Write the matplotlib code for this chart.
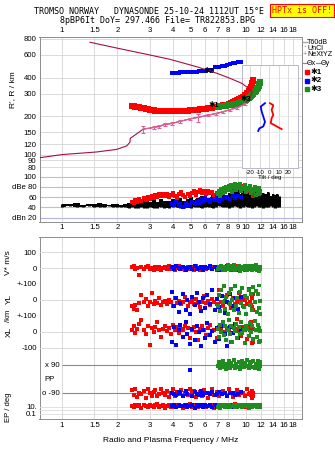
import matplotlib
matplotlib.use('Agg')
import matplotlib.pyplot as plt
from matplotlib.lines import Line2D
from matplotlib.ticker import NullLocator

# ---------------- data ----------------
# O-mode echoes (*1, red)
red_f = [2.40, 2.45, 2.50, 2.56, 2.62, 2.70, 2.78, 2.85, 2.92, 3.00, 3.08, 3.15, 3.22, 3.30, 3.38, 3.46,
         3.55, 3.64, 3.73, 3.82, 3.92, 4.02, 4.12, 4.23, 4.34, 4.45, 4.57, 4.69, 4.81, 4.94, 5.07, 5.20,
         5.34, 5.48, 5.62, 5.77, 5.92, 6.08, 6.24, 6.40, 6.57, 6.74, 6.92, 7.10, 7.29, 7.48, 7.68, 7.88,
         8.09, 8.30, 8.52, 8.74, 8.97, 9.20, 9.44, 9.68, 9.93, 10.15, 10.35, 10.50, 10.62, 10.72, 10.80,
         10.86, 10.90]
red_h = [240, 238, 236, 237, 234, 232, 230, 228, 226, 224, 223, 222, 221, 221, 220, 220,
         219, 219, 219, 219, 219, 219, 219, 219, 220, 220, 220, 221, 221, 222, 222, 223,
         224, 225, 226, 227, 228, 229, 230, 231, 232, 234, 236, 238, 240, 242, 244, 246,
         249, 252, 256, 260, 265, 270, 276, 283, 292, 302, 315, 328, 340, 352, 364, 375, 385]
red_db = [50, 48, 54, 50, 57, 53, 59, 55, 61, 57, 63, 59, 65, 61, 66, 62, 67, 63, 66, 60, 64, 68, 62,
          58, 66, 70, 64, 60, 67, 63, 69, 72, 65, 70, 74, 68, 72, 66, 73, 69, 71, 64, 68, 62, 67, 72,
          76, 80, 74, 78, 82, 76, 80, 83, 77, 81, 79, 75, 78, 72, 74, 69, 71, 66, 63]
red_v = [8, 12, -5, 3, -45, 10, -8, 6, 15, -3, 2, -12, 5, -6, 10, -15, 0, 4, -8, 12, -4, 6, -10, 3,
         16, -6, 2, -12, 8, -3, 5, -9, 11, -2, -14, 4, 9, -7, 1, 13, -5, 7, -11, 3, -4, 10, -8, 2, 6,
         -13, 5, -3, 12, -7, 0, 8, -10, 4, -5, 9, -2, 6, -8, 3, -4]
red_yl = [-40, -55, -30, -62, -20, 30, -15, 5, -35, -10, 46, -25, -5, -18, 10, -30, -12, -8, -22, 0,
          -15, -40, 15, -20, -5, -28, -10, 20, -35, -15, -2, -25, 8, -18, -45, -10, 25, -20, -8, -30,
          5, -15, -25, 60, -12, -35, -5, 30, -20, -50, 10, -28, -15, 45, -8, -38, 0, -22, 70, -12,
          -30, 15, -45, 35, -60]
red_xl = [10, 35, -5, 20, 50, 75, 15, -10, 40, -81, 25, 0, 30, 60, 10, -29, 20, 35, 5, 25, -15, 45,
          15, 30, -5, 20, 10, 40, 25, -35, 15, 30, 0, -50, 20, 35, 10, -20, 25, 45, 5, 15, -40, 30,
          20, 55, 0, 25, 10, -60, 35, 20, 80, 5, -25, 30, 15, -45, 40, 10, 60, -70, 25, -65, 20]
red_pp = [-70, -100, -60, -115, -85, -95, -75, -120, -65, -90, -105, -80, -70, -110, -95, -60, -85,
          -100, -75, -115, -90, -65, -105, -80, -95, -70, -110, -85, -100, -60, -90, -75, -115, -95,
          -80, -105, -70, -90, -120, -85, -65, -100, -80, -110, -95, -75, -90, -105, -60, -85, -115,
          -95, -70, -100, -80, -90, -110, -65, -95, -85, -100, -75, -120, -90, -105]
red_ep = [20, 8, 35, 12, 25, 6, 40, 15, 10, 30, 18, 7, 22, 45, 9, 14, 28, 5, 16, 33, 11, 24, 8, 38,
          13, 20, 6, 27, 17, 42, 10, 19, 31, 7, 23, 15, 36, 9, 21, 12, 29, 6, 18, 40, 14, 25, 8, 32,
          11, 20, 16, 44, 9, 26, 13, 35, 7, 22, 18, 30, 10, 24, 15, 38, 12]

# *2 echoes (blue)
blue_f = [3.95, 4.05, 4.15, 4.30, 4.40, 4.55, 4.70, 4.80, 4.95, 5.10, 5.25, 5.40, 5.55, 5.70, 5.85,
          6.00, 6.15, 6.35, 6.55, 6.75, 6.95, 7.15, 7.40, 7.65, 7.90, 8.15, 8.45, 8.75, 9.05, 9.35]
blue_h = [436, 436, 437, 437, 438, 438, 439, 439, 440, 440, 441, 442, 446, 448, 450, 452, 455, 458,
          462, 480, 483, 485, 488, 492, 505, 510, 515, 520, 526, 532]
blue_db = [47, 44, 50, 42, 46, 41, 48, 43, 45, 50, 47, 53, 49, 56, 52, 58, 54, 51, 57, 55, 60, 52,
           56, 58, 61, 57, 63, 59, 62, 60]
blue_v = [5, -8, 12, 0, -5, 10, -12, 3, 8, -3, 15, -6, 2, 9, -10, 4, -2, 11, -7, 6, 0, -9, 7, -4,
          13, 1, -6, 5, -11, 3]
blue_yl = [52, -40, 10, -75, -20, 35, -60, 0, -85, 20, -30, 45, -10, -70, 15, -50, 30, -25, 60, -65,
           5, -45, 25, -80, -15, 40, -35, 10, -55, 20]
blue_xl = [-60, 30, -80, 10, 45, -30, 60, -10, -75, 20, -50, 35, 0, -90, 15, -40, 55, -20, 5, -65,
           25, -45, 40, -15, -85, 30, -5, 50, -35, 15]
blue_pp = [-85, -95, -100, -80, -90, -105, -75, -95, 60, -110, -82, -92, -98, -78, -102, -90, -86,
           -96, -84, -100, -92, -80, -95, -88, -105, -90, -85, -98, -94, -82]
blue_ep = [15, 25, 8, 30, 12, 20, 35, 10, 18, 28, 6, 22, 14, 32, 9, 24, 16, 38, 11, 26, 7, 19, 30,
           13, 21, 40, 10, 17, 27, 12]

# X-mode echoes (*3, green)
green_f = [7.05, 7.15, 7.25, 7.36, 7.47, 7.58, 7.70, 7.82, 7.94, 8.06, 8.18, 8.31, 8.44, 8.57, 8.70,
           8.84, 8.98, 9.12, 9.26, 9.41, 9.56, 9.71, 9.86, 10.02, 10.18, 10.34, 10.50, 10.66, 10.82,
           10.98, 11.14, 11.30, 11.45, 11.58, 11.70, 11.80, 11.88, 11.94]
green_h = [237, 237, 238, 238, 239, 239, 240, 241, 242, 243, 244, 245, 246, 247, 248, 249, 250, 252,
           254, 256, 258, 261, 264, 267, 271, 275, 280, 286, 292, 299, 306, 314, 323, 333, 343, 353,
           362, 372]
green_db = [66, 72, 62, 75, 68, 78, 71, 80, 74, 82, 76, 84, 70, 80, 86, 74, 82, 78, 85, 72, 80, 76,
            83, 70, 78, 74, 81, 68, 76, 72, 79, 65, 74, 70, 77, 66, 72, 68]
green_v = [-5, 10, 0, 15, -10, 5, -15, 8, 20, -3, 12, -8, 3, 18, -12, 6, -5, 14, -18, 9, 0, -7, 16,
           4, -14, 11, -2, 7, -9, 13, -4, 19, -11, 2, 8, -16, 5, -6]
green_yl = [-40, 30, -70, 60, -10, 85, -55, 20, -85, 45, -25, 70, 0, -60, 90, -35, 15, -80, 50, -20,
            75, -45, 25, -90, 10, 65, -30, 40, -65, 80, -15, 55, -75, 35, -50, 95, -5, -88]
green_xl = [20, -30, 45, 0, 60, -20, 35, -50, 10, 75, -10, 40, -60, 25, 5, 50, -40, 30, -15, 65, -5,
            15, -70, 40, 20, -25, 55, 0, 35, -45, 70, 10, -30, 45, -65, 25, 5, -55]
green_pp = [85, 110, 70, 95, 120, 80, 100, 65, 90, 115, 75, 105, 88, 125, 72, 98, 82, 110, 68, 92,
            118, 78, 102, 86, 122, 70, 95, 108, 80, 115, 74, 100, 90, 120, 66, 96, 84, 112]
green_ep = [10, 25, 6, 18, 35, 12, 8, 28, 15, 40, 9, 20, 14, 32, 7, 22, 11, 38, 16, 26, 8, 19, 30,
            12, 24, 6, 17, 36, 10, 21, 13, 29, 9, 23, 16, 34, 11, 27]

# real-height profile (dark red line)
prof_f = [0.76, 1.0, 1.54, 1.98, 2.25, 2.34, 2.35, 2.49, 2.76, 3.16, 3.63, 3.94, 4.96, 6.22, 7.5,
          8.9, 9.9, 10.5, 10.8]
prof_h = [94.6, 100, 104.8, 109.8, 117, 125, 134, 142, 158, 163, 172, 175, 190, 203, 216, 232, 249,
          280, 310]
# upper dark red trace
up_f = [1.42, 2.0, 2.5, 3.0, 3.5, 3.86, 4.5, 5.5, 6.2, 7.0, 8.2, 9.5, 10.3, 10.8]
up_h = [754, 678, 634, 600, 572, 555, 522, 482, 455, 430, 394, 360, 330, 312]
# NeXtYZ points with error bars (pink)
nxt_f = [2.76, 3.16, 3.38, 3.63, 3.94, 4.38, 4.96, 5.5, 6.22, 6.9, 7.5, 8.2, 8.9, 9.9]
nxt_h = [158, 163, 165, 172, 175, 182, 190, 195, 203, 209, 216, 225, 232, 249]
nxt_e = [10, 4, 4, 4, 4, 4, 4, 14, 4, 4, 4, 4, 4, 4]
# tilt profiles
tiltx_deg = [0.7, 4.2, 2.5, 4.2, 2.5, 1.5, 7.8, 13]
tiltx_h = [252, 243, 224, 203, 193, 176, 166, 158]
tilty_deg = [-4.5, -9, -8, -6.3, -4.5, -6.3, -10.5, -11.6]
tilty_h = [252, 237, 217, 198, 180, 166, 160, 153]
# noise (black) envelopes in dBe panel
noise_f = [1.00, 1.10, 1.20, 1.30, 1.40, 1.50, 1.60, 1.70, 1.80, 1.90, 2.00, 2.10, 2.20, 2.30, 2.40,
           2.50, 2.60, 2.70, 2.80, 2.90, 3.00, 3.15, 3.30, 3.45, 3.60, 3.80, 4.00, 4.20, 4.40, 4.60,
           4.80, 5.00, 5.25, 5.50, 5.75, 6.00, 6.30, 6.60, 6.90, 7.20, 7.50, 7.80, 8.10, 8.40, 8.70,
           9.00, 9.30, 9.60, 9.90, 10.2, 10.5, 10.8, 11.1, 11.4, 11.7, 12.0, 12.4, 12.8, 13.2, 13.6,
           14.0, 14.4, 14.8, 15.2]
noise_lo = [41, 42, 40, 41, 42, 41, 40, 41, 42, 41, 40, 41, 40, 39, 40, 38, 39, 40, 38, 39, 40, 38,
            39, 40, 38, 39, 40, 41, 39, 38, 40, 39, 41, 40, 38, 40, 41, 39, 40, 42, 40, 41, 39, 40,
            42, 41, 39, 40, 42, 40, 41, 39, 40, 42, 41, 40, 39, 41, 40, 42, 41, 39, 40, 41]
noise_hi = [47, 46, 48, 45, 47, 46, 48, 46, 45, 47, 46, 45, 47, 48, 50, 47, 52, 49, 55, 60, 51, 54,
            50, 56, 53, 52, 57, 54, 58, 53, 56, 60, 55, 58, 62, 56, 59, 64, 58, 62, 66, 60, 68, 64,
            70, 74, 66, 72, 68, 70, 64, 68, 72, 66, 70, 64, 68, 66, 70, 63, 67, 64, 66, 62]

top_ticks = [1, 1.5, 2, 3, 4, 5, 6, 7, 8, 10, 12, 14, 16, 18]
top_labels = ['1', '1.5', '2', '3', '4', '5', '6', '7', '8', '10', '12', '14', '16', '18']
mid_ticks = [1, 1.5, 2, 3, 4, 5, 6, 7, 8, 9, 10, 12, 14, 16, 18]
mid_labels = ['1', '1.5', '2', '3', '4', '5', '6', '7', '8', '9', '10', '12', '14', '16', '18']
h_ticks = [80, 90, 100, 120, 150, 200, 300, 400, 600, 800]
db_ticks = [20, 40, 60, 80, 100]
db_labels = ['dBn 20', '40', '60', 'dBe 80', '100']

# ---------------- styling / layout ----------------
plt.rcParams['font.family'] = ['Liberation Sans', 'DejaVu Sans']
W, H = 335, 451
fig = plt.figure(figsize=(W / 100, H / 100), dpi=100)

RED, BLUE, GREEN = '#ff0000', '#0000ff', '#1e8c1e'
DARKRED, PINK = '#a8103c', '#e0609a'
GRID, FRAME = '#d4d4d4', '#8c8c8c'
XMIN, XMAX = 0.7546, 20.08
TS = 5.6


def ax_at(left, top, right, bottom, z=1):
    a = fig.add_axes([left / W, 1 - bottom / H, (right - left) / W, (bottom - top) / H])
    a.set_zorder(z)
    return a


def style_x(ax):
    ax.set_xscale('log')
    ax.set_xlim(XMIN, XMAX)
    ax.xaxis.set_minor_locator(NullLocator())
    ax.tick_params(length=0, labelsize=TS, pad=2)
    for s in ax.spines.values():
        s.set_color(FRAME)
        s.set_linewidth(0.7)


def vgrid(ax, ticks):
    for t in ticks:
        ax.axvline(t, color=GRID, lw=0.6, zorder=0)


def sq(ax, x, y, c, s=5.0, z=3):
    ax.scatter(x, y, s=s, c=c, marker='s', linewidths=0, zorder=z)


def height_axes(ax):
    style_x(ax)
    ax.set_yscale('log')
    ax.set_ylim(75.8, 829)
    ax.yaxis.set_minor_locator(NullLocator())


# ---- height panel: background grid axes ----
axg = ax_at(39.5, 37, 301.7, 170, z=1)
height_axes(axg)
axg.set_yticks(h_ticks)
axg.set_yticklabels([str(t) for t in h_ticks])
axg.xaxis.tick_top()
axg.set_xticks(top_ticks)
axg.set_xticklabels(top_labels)
axg.spines['bottom'].set_visible(False)
vgrid(axg, top_ticks)
for t in h_ticks:
    axg.axhline(t, color=GRID, lw=0.6, zorder=0)

# ---- dBe panel ----
axd = ax_at(39.5, 170, 301.7, 221.7, z=1)
style_x(axd)
axd.set_ylim(12.2, 113)
axd.set_yticks(db_ticks)
axd.set_yticklabels(db_labels)
axd.set_xticks(mid_ticks)
axd.set_xticklabels(mid_labels)
axd.spines['top'].set_visible(False)
vgrid(axd, mid_ticks)
for t in db_ticks:
    axd.axhline(t, color='#b4b4e6' if t == 20 else '#c0c0c0', lw=0.8, zorder=0)
axd.fill_between(noise_f, noise_lo, noise_hi, step='mid', color='black', lw=0, zorder=2)
axd.vlines(noise_f, noise_lo, noise_hi, color='black', lw=2.2, zorder=2)
sq(axd, red_f, red_db, RED, s=8)
sq(axd, blue_f, blue_db, BLUE, s=8)
sq(axd, green_f, green_db, GREEN, s=10)

# ---- tilt inset ----
axi = ax_at(241.7, 65, 298.3, 168.3, z=2)
axi.set_xlim(-29, 30.5)
axi.set_yscale('log')
axi.set_ylim(78.1, 501)
axi.yaxis.set_major_locator(NullLocator())
axi.yaxis.set_minor_locator(NullLocator())
axi.set_xticks([-20, -10, 0, 10, 20])
axi.set_xticklabels(['-20', '-10', '0', '10', '20'])
axi.tick_params(length=0, labelsize=4.4, pad=1)
axi.set_xlabel('Tilt / deg', fontsize=4.4, labelpad=0)
for s in axi.spines.values():
    s.set_color('#b8b8c8')
    s.set_linewidth(0.7)
for t in [-20, -10, 0, 10, 20]:
    axi.axvline(t, color=GRID, lw=0.6, zorder=0)
for t in [100, 120, 150, 200, 300, 400]:
    axi.axhline(t, color='#e6e6e6', lw=0.5, zorder=0)
axi.plot(tiltx_deg, tiltx_h, color=RED, lw=1.3)
axi.plot(tilty_deg, tilty_h, color=BLUE, lw=1.3)

# ---- height panel: data axes on top ----
axh = ax_at(39.5, 37, 301.7, 170, z=3)
height_axes(axh)
axh.patch.set_alpha(0)
axh.set_xticks([])
axh.set_yticks([])
for s in axh.spines.values():
    s.set_visible(False)
axh.plot(up_f, up_h, color=DARKRED, lw=0.8, zorder=4)
axh.plot(prof_f, prof_h, color=DARKRED, lw=0.8, zorder=4)
axh.errorbar(nxt_f, nxt_h, yerr=nxt_e, fmt='none', ecolor=PINK, elinewidth=0.8, capsize=1.2,
             capthick=0.8, zorder=5)
axh.plot(nxt_f, nxt_h, color=PINK, lw=0.8, zorder=4)
sq(axh, red_f, red_h, RED, s=13)
sq(axh, green_f, green_h, GREEN, s=13)
sq(axh, blue_f, blue_h, BLUE, s=5)
for lab, xf, yh in [('✱1', 6.7, 240), ('✱2', 6.25, 448), ('✱3', 10.0, 268)]:
    axh.text(xf, yh, lab, fontsize=5.5, fontweight='bold', ha='center', va='center', zorder=6)

# ---- lower panel frame ----
axb = ax_at(39.5, 236.7, 301.7, 419.3, z=1)
style_x(axb)
axb.set_yticks([])
axb.set_xticks(top_ticks)
axb.set_xticklabels(top_labels)
vgrid(axb, top_ticks)
axb.set_xlabel('Radio and Plasma Frequency / MHz', fontsize=6, labelpad=6)


def sub(top, bottom, ylim, ticks, labels, log=False):
    a = ax_at(39.5, top, 301.7, bottom, z=2)
    a.set_xscale('log')
    a.set_xlim(XMIN, XMAX)
    a.patch.set_alpha(0)
    for s in a.spines.values():
        s.set_visible(False)
    a.set_xticks([])
    a.xaxis.set_minor_locator(NullLocator())
    if log:
        a.set_yscale('log')
        a.yaxis.set_minor_locator(NullLocator())
    a.set_ylim(*ylim)
    a.set_yticks(ticks)
    a.set_yticklabels(labels)
    a.tick_params(length=0, labelsize=TS, pad=2)
    return a


axV = sub(236.7, 284, (-100, 197.5), [100, 0, -100], ['100', '0', '+-100'])
axY = sub(284, 316, (-100, 100), [0, -100], ['0', '+-100'])
axX = sub(316, 360, (-175, 100), [0, -100], ['0', '-100'])
axP = sub(355, 400, (-133, 156), [], [])
axE = sub(400, 419.3, (0.00353, 685), [10, 0.1], ['10.', '0.1'], log=True)

for a, vals in [(axV, [100, 0, -100]), (axY, [0, -100]), (axX, [0, -100])]:
    for v in vals:
        a.axhline(v, color=GRID, lw=0.6, zorder=0)
for v in [90, -90]:
    axP.hlines(v, 1.0, XMAX, color='#8a8a8a', lw=0.8, zorder=0)
axP.text(1.0, 90, 'x 90 ', fontsize=TS, ha='right', va='center')
axP.text(1.0, -90, 'o -90 ', fontsize=TS, ha='right', va='center')
axP.text(0.80, 0, 'PP', fontsize=TS, ha='left', va='center')
for v in [10, 1, 0.1]:
    axE.axhline(v, color='#dcdcdc', lw=0.6, zorder=0)

for a, key in [(axV, 'v'), (axY, 'yl'), (axX, 'xl'), (axP, 'pp'), (axE, 'ep')]:
    sq(a, red_f, globals()['red_' + key], RED, s=7)
    sq(a, blue_f, globals()['blue_' + key], BLUE, s=7)
    sq(a, green_f, globals()['green_' + key], GREEN, s=7)


# ---- texts ----
def ft(px, py, s, **kw):
    fig.text(px / W, 1 - py / H, s, **kw)


ft(149, 12, 'TROMSO NORWAY   DYNASONDE 25-10-24 1112UT 15°E', family='DejaVu Sans Mono',
   fontsize=6.0, ha='center', va='center')
ft(157, 20.5, '8pBP6It DoY= 297.466 File= TR822853.BPG', family='DejaVu Sans Mono',
   fontsize=6.0, ha='center', va='center')
ft(302, 10.5, 'HPTx is OFF!', family='DejaVu Sans Mono', fontsize=6.0, color='red',
   ha='center', va='center',
   bbox=dict(boxstyle='square,pad=0.25', facecolor='yellow', edgecolor='red', lw=0.8))
ft(13, 90, "R', R / km", rotation=90, fontsize=6, ha='center', va='center')
ft(9, 263, 'V* m/s', rotation=90, fontsize=6, ha='center', va='center')
ft(9, 299, 'YL', rotation=90, fontsize=6, ha='center', va='center')
ft(9, 316, '/km', rotation=90, fontsize=5.5, ha='center', va='center')
ft(9, 332, 'XL', rotation=90, fontsize=6, ha='center', va='center')
ft(9, 407, 'EP / deg', rotation=90, fontsize=5.5, ha='center', va='center')

# legend (outside right)
LS = 5.1


def fl(x0, x1, py, c):
    fig.add_artist(Line2D([x0 / W, x1 / W], [1 - py / H, 1 - py / H], color=c, lw=0.9,
                          transform=fig.transFigure))


fl(302, 306.5, 42.3, '#a0a0a0')
ft(307, 42.3, 'T60dB', fontsize=LS, va='center', color='black')
ft(304.5, 48.0, '·', fontsize=LS, va='center', ha='center')
ft(307, 48.3, 'UnCl', fontsize=LS, va='center', color='black')
ft(304.5, 54.3, '+', fontsize=LS, va='center', ha='center', color=PINK)
ft(307, 54.3, 'NeXtYZ', fontsize=LS, va='center', color='black')
fl(302, 307, 63.3, PINK)
ft(307, 63.3, 'Θx', fontsize=LS, va='center', color='black')
fl(315.5, 320.5, 63.3, '#8080e0')
ft(320.5, 63.3, 'Θy', fontsize=LS, va='center', color='black')
for py, c, lab in [(72.3, RED, '✱1'), (81, BLUE, '✱2'), (89.3, GREEN, '✱3')]:
    fig.add_artist(Line2D([307 / W], [1 - py / H], marker='s', markersize=3.0, color=c,
                          transform=fig.transFigure, linestyle='none'))
    ft(310.5, py, lab, fontsize=5.8, va='center', fontweight='bold')

fig.savefig('out.png', dpi=100)
